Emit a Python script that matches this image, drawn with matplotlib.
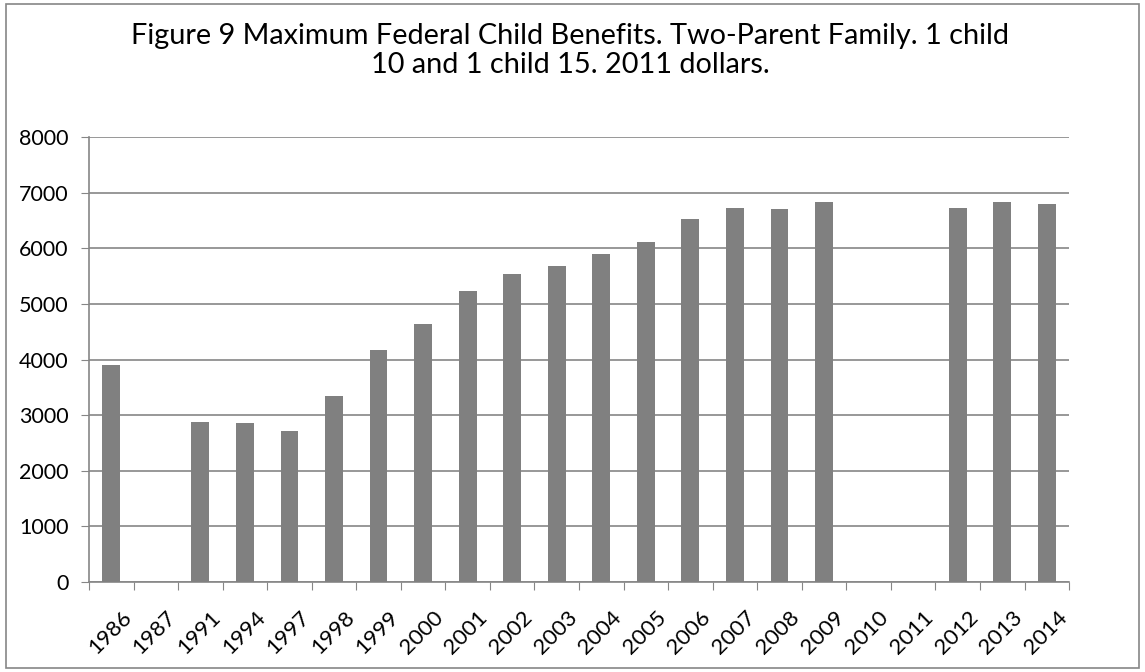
import numpy as np
import matplotlib.pyplot as plt
from matplotlib.patches import Rectangle
from matplotlib.transforms import ScaledTranslation

years = ['1986', '1987', '1991', '1994', '1997', '1998', '1999', '2000', '2001', '2002', '2003',
         '2004', '2005', '2006', '2007', '2008', '2009', '2010', '2011', '2012', '2013', '2014']
benefits = [3900, np.nan, 2880, 2860, 2720, 3350, 4180, 4640, 5225, 5540, 5690,
            5900, 6120, 6525, 6725, 6705, 6835, np.nan, np.nan, 6730, 6830, 6795]

plt.rcParams['font.family'] = ['Lato', 'DejaVu Sans']

fig = plt.figure(figsize=(11.45, 6.72), dpi=100)
ax = fig.add_axes([0.0777, 0.134, 0.856, 0.662])

x = np.arange(len(years))
ax.bar(x, benefits, 0.4, color='#808080', zorder=3)

ax.set_xlim(-0.5, len(years) - 0.5)
ax.set_ylim(0, 8000)
ax.set_yticks(range(0, 8001, 1000))
# category boundaries get the tick marks, labels sit at the centres
ax.set_xticks(np.arange(len(years) + 1) - 0.5)
ax.set_xticklabels([])
ax.tick_params(axis='x', length=5.5, color='#868686', direction='out')
ax.tick_params(axis='y', length=5.5, color='#868686', labelsize=15.5, pad=9)

# rotated year labels, placed Excel-style below each category
lab_trans = ax.get_xaxis_transform() + ScaledTranslation(17 / 100, -32 / 100, fig.dpi_scale_trans)
for xi, yr in zip(x, years):
    ax.text(xi, 0, yr, transform=lab_trans, rotation=45, rotation_mode='anchor',
            ha='right', va='center', fontsize=16)

ax.grid(axis='y', color='#868686', linewidth=1.2, zorder=0)
for s in ['top', 'right']:
    ax.spines[s].set_visible(False)
for s in ['left', 'bottom']:
    ax.spines[s].set_color('#868686')
    ax.spines[s].set_linewidth(1.2)

fig.text(0.498, 0.925, 'Figure 9 Maximum Federal Child Benefits. Two-Parent Family. 1 child\n10 and 1 child 15. 2011 dollars.',
         ha='center', va='center', fontsize=20.8, linespacing=1.15)

fig.patches.append(Rectangle((0.005, 0.006), 0.99, 0.988, transform=fig.transFigure,
                             fill=False, edgecolor='#868686', linewidth=1.2))

fig.savefig('out.png', dpi=100)
